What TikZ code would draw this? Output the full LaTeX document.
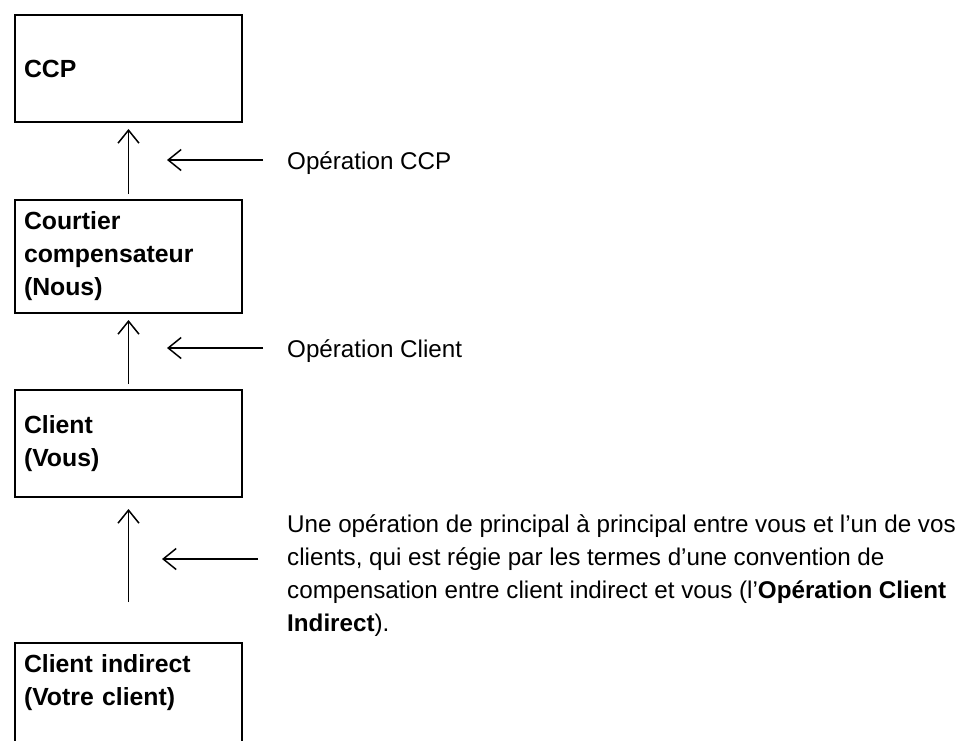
\documentclass[tikz,border=0pt]{standalone}
\usepackage{fontspec}
\setmainfont{Liberation Sans}
\usetikzlibrary{arrows.meta}
\begin{document}
\begin{tikzpicture}[x=1pt,y=-1pt,
  boxnode/.style={draw,line width=2pt,rectangle,minimum width=227pt,text width=209pt,inner xsep=9pt,inner ysep=0pt,align=left,font=\bfseries\fontsize{24.8}{33}\selectfont},
  lbl/.style={inner sep=0pt,font=\fontsize{24.2}{33}\selectfont},
  arr/.style={line width=1.5pt,-{Straight Barb[length=13pt,width=21pt,line width=1.5pt]}}]
\useasboundingbox (0,0) rectangle (967,740);
\node[boxnode,minimum height=107pt,anchor=north west] (ccp) at (14,14) {CCP};
\node[boxnode,minimum height=113pt,anchor=north west] (court) at (14,199) {Courtier\\compensateur\\(Nous)};
\node[boxnode,minimum height=107pt,anchor=north west] (cli) at (14,389) {Client\\(Vous)};
\node[boxnode,minimum height=116pt,anchor=north west] (ind) at (14,642) {Client indirect\\(Votre client)\\\strut};
\draw[arr,shorten <=5pt,shorten >=6pt] (court.north) -- (ccp.south);
\draw[arr,shorten <=5pt,shorten >=6pt] (cli.north) -- (court.south);
\draw[arr,shorten <=40pt,shorten >=11pt] (ind.north) -- (cli.south);
\node[lbl,anchor=base west] (l1) at (287,169) {Opération CCP};
\node[lbl,anchor=base west] (l2) at (287,357) {Opération Client};
\node[lbl,anchor=north west,align=left] (l3) at (287,514) {Une opération de principal à principal entre vous et l’un de vos\\clients, qui est régie par les termes d’une convention de\\compensation entre client indirect et vous (l’\textbf{Opération Client}\\\textbf{Indirect}).};
\coordinate (a1s) at (263,160); \coordinate (a1e) at (167,160);
\coordinate (a2s) at (263,348); \coordinate (a2e) at (167,348);
\coordinate (a3s) at (258,559); \coordinate (a3e) at (162,559);
\draw[arr] (a1s) -- (a1e);
\draw[arr] (a2s) -- (a2e);
\draw[arr] (a3s) -- (a3e);
\end{tikzpicture}
\end{document}
